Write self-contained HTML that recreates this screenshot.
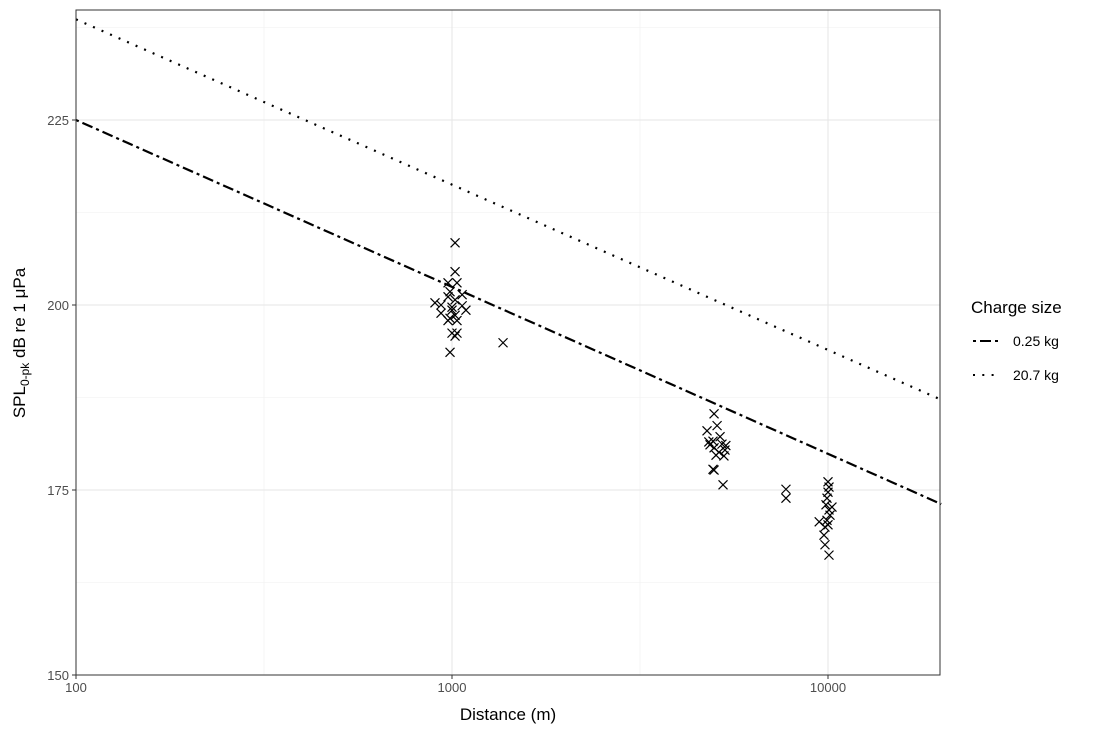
<!DOCTYPE html>
<html><head><meta charset="utf-8"><style>
body{margin:0;background:#fff;}
svg{display:block;font-family:"Liberation Sans",Arial,sans-serif;}
</style></head><body>
<svg id="chart" width="1100" height="733" viewBox="0 0 1100 733">
<g id="grid"></g><g id="lines"></g><g id="pts"></g><g id="axes"></g>
<g>
<text x="971" y="313" font-size="17" fill="#000">Charge size</text>
<g>
<line x1="973" y1="341" x2="999" y2="341" stroke="#000" stroke-width="2" stroke-dasharray="3,4,11,4"/>
<text x="1013" y="346" font-size="14">0.25 kg</text></g>
<g>
<line x1="973" y1="375" x2="999" y2="375" stroke="#000" stroke-width="2" stroke-dasharray="2,7.3"/>
<text x="1013" y="380" font-size="14">20.7 kg</text></g>
</g>
<text x="508" y="720" font-size="17" text-anchor="middle">Distance (m)</text>
<text transform="translate(25,343) rotate(-90)" font-size="17" text-anchor="middle">SPL<tspan font-size="12" dy="4">0-pk</tspan><tspan dy="-4"> dB re 1 μPa</tspan></text>
</svg>
<script>
const xTicks=[100,1000,10000];
const xTickLabels=["100","1000","10000"];
const xMinor=[316.23,3162.3];
const yTicks=[150,175,200,225];
const yMinor=[162.5,187.5,212.5,237.5];
const pointDist=[1019,1019,976,1031,935,901,935,1000,1019,1064,976,988,1000,988,1019,1031,1089,976,1000,1031,1019,988,1367,1064,
4977,4767,5070,4945,5163,4855,4977,5224,5321,5037,5130,5287,4945,4977,5258,4820,5350,
7730,7730,
10000,10061,10000,9939,9878,10061,10123,10246,10000,9475,9818,9757,9818,10061,9939];
const pointSpl=[208.4,204.5,203.0,203.0,200.0,200.3,198.9,199.7,200.7,201.4,201.1,201.8,199.3,198.2,198.6,197.9,199.3,197.9,196.2,196.2,195.8,193.6,194.9,199.9,
185.3,183.0,183.7,181.6,182.2,181.1,180.7,181.2,180.4,179.7,180.1,179.6,177.8,177.7,175.7,181.5,181.0,
175.1,173.9,
176.1,175.4,174.7,173.9,173.0,172.3,171.6,172.7,170.3,170.7,170.0,168.9,167.6,166.2,170.9];
const lineDist=[100,20000];
const line025=[225,173.1];
const line207=[238.6,187.2];
const L=76,R=940,T=10,B=675;
const xs=d=>L+(Math.log10(d)-2)*376;
const ys=v=>B-(v-150)*7.4;
const NS="http://www.w3.org/2000/svg";
function mk(p,t,a){const e=document.createElementNS(NS,t);for(const k in a)e.setAttribute(k,a[k]);document.getElementById(p).appendChild(e);return e;}
xMinor.forEach(d=>{const e=mk('grid','line',{x1:xs(d),x2:xs(d),y1:T,y2:B,stroke:'#f0f0f0','stroke-width':0.6});

});
yMinor.forEach(v=>{const e=mk('grid','line',{x1:L,x2:R,y1:ys(v),y2:ys(v),stroke:'#f0f0f0','stroke-width':0.6});

});
xTicks.forEach((d,i)=>{const e=mk('grid','line',{x1:xs(d),x2:xs(d),y1:T,y2:B,stroke:'#e6e6e6','stroke-width':1.1});


const tk=mk('axes','line',{x1:xs(d),x2:xs(d),y1:B,y2:B+4,stroke:'#333'});


const t=mk('axes','text',{x:xs(d),y:B+17,'font-size':13,fill:'#4d4d4d','text-anchor':'middle'});t.textContent=xTickLabels[i];

});
yTicks.forEach(v=>{const e=mk('grid','line',{x1:L,x2:R,y1:ys(v),y2:ys(v),stroke:'#e6e6e6','stroke-width':1.1});


const tk=mk('axes','line',{x1:L-4,x2:L,y1:ys(v),y2:ys(v),stroke:'#333'});


const t=mk('axes','text',{x:L-7,y:ys(v)+5,'font-size':13,fill:'#4d4d4d','text-anchor':'end'});t.textContent=v;

});
const fr=mk('axes','rect',{x:L,y:T,width:R-L,height:B-T,fill:'none',stroke:'#333','stroke-width':1});


const l1=mk('lines','line',{x1:xs(lineDist[0]),y1:ys(line025[0]),x2:xs(lineDist[1]),y2:ys(line025[1]),stroke:'#000','stroke-width':2.2,'stroke-dasharray':'3,4,11,4'});


const l2=mk('lines','line',{x1:xs(lineDist[0]),y1:ys(line207[0]),x2:xs(lineDist[1]),y2:ys(line207[1]),stroke:'#000','stroke-width':2.2,'stroke-dasharray':'2,7.3'});


pointDist.forEach((d,i)=>{const x=xs(d),y=ys(pointSpl[i]),s=4.5;
const p=mk('pts','path',{d:`M${x-s},${y-s}L${x+s},${y+s}M${x-s},${y+s}L${x+s},${y-s}`,stroke:'#000','stroke-width':1.2,fill:'none'});

});
</script>
</body></html>
